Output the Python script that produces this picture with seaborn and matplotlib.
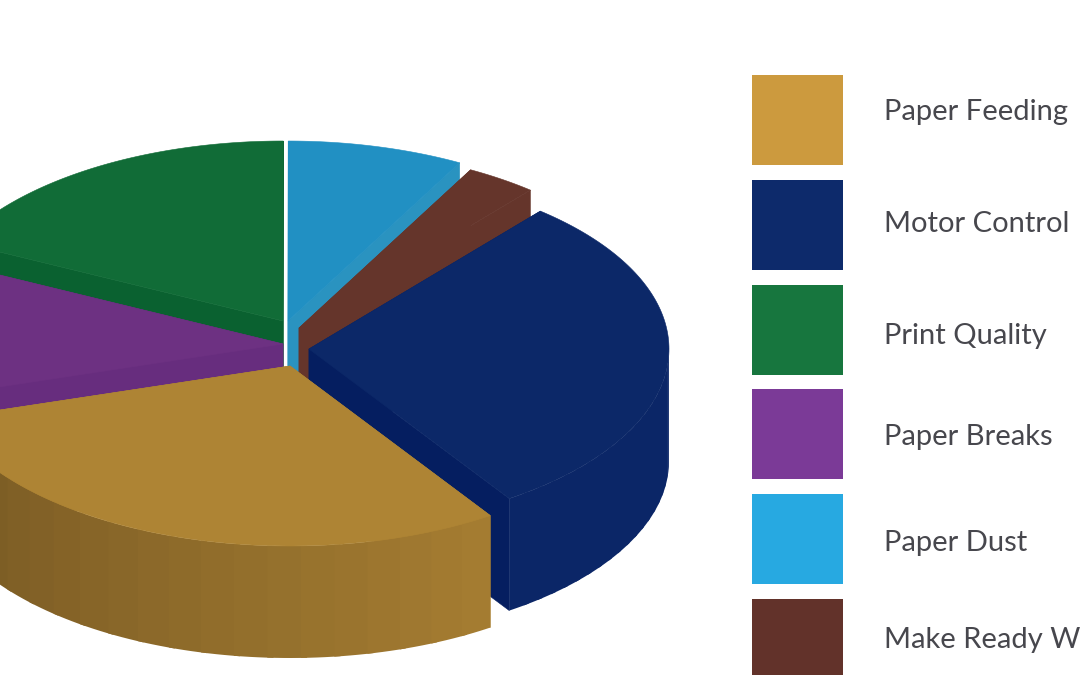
import numpy as np
import matplotlib
matplotlib.use("Agg")
import matplotlib.pyplot as plt
import seaborn as sns
from matplotlib.patches import Polygon, Rectangle

# ---- data -------------------------------------------------------------
categories = ["Motor Control", "Make Ready Waste", "Paper Dust",
              "Print Quality", "Paper Breaks", "Paper Feeding"]
shares = [29.5, 3.2, 7.9, 17.8, 11.9, 29.7]

legend_order = ["Paper Feeding", "Motor Control", "Print Quality",
                "Paper Breaks", "Paper Dust", "Make Ready Waste"]

# ---- styles -----------------------------------------------------------
top_colors = ["#0c2868", "#65352b", "#2190c3", "#116c37", "#6d3182", "#ae8434"]
cut_colors = ["#051e60", "#65352b", "#2a93c0", "#0a6130", "#672d7e", "#ae8434"]
side_colors = [("#0b2667", "#0b2667"), ("#65352b", "#65352b"), ("#2190c3", "#2190c3"),
               ("#116c37", "#116c37"), ("#6d3182", "#6d3182"), ("#765823", "#a47c31")]
legend_colors = ["#cc9a3e", "#0d2a6b", "#17763e", "#7b3a97", "#27a9e1", "#62322a"]
offsets = [(21, 9), (11, -12), (0, -19), (-5, -19), (-5, 4), (2, 26)]
draw_order = [3, 2, 4, 1, 0, 5]
CENTER = (288, 340)
RX, RY, DEPTH = 360, 180, 112
START = -56.2
LEG_X, LEG_W, LEG_H, LEG_Y0, LEG_STEP = 752, 91, 90, 75, 104.8
LABEL_X = 884
LABEL_Y = [112, 224, 336, 437, 543, 640]

sns.set_theme(style="white")
plt.rcParams["font.family"] = ["Lato", "DejaVu Sans"]

fig = plt.figure(figsize=(10.8, 6.75), dpi=100)
ax = fig.add_axes([0, 0, 1, 1])
ax.set_xlim(0, 1080)
ax.set_ylim(675, 0)
ax.axis("off")

palette = sns.color_palette(top_colors)
angles = START + np.concatenate([[0], np.cumsum(shares)]) * 3.6


def rim(cx, cy, theta):
    t = np.radians(theta)
    return cx + RX * np.cos(t), cy - RY * np.sin(t)


for z, i in enumerate(draw_order):
    a0, a1 = angles[i], angles[i + 1]
    cx, cy = CENTER[0] + offsets[i][0], CENTER[1] + offsets[i][1]
    base = z * 10

    # flat faces left by the cut
    for a in (a0, a1):
        x, y = rim(cx, cy, a)
        ax.add_patch(Polygon([(cx, cy), (x, y), (x, y + DEPTH), (cx, cy + DEPTH)],
                             closed=True, fc=cut_colors[i], ec=cut_colors[i],
                             lw=0.4, zorder=base))

    # outer wall, front half only
    lo = max(a0, 180) if a0 >= 0 else a0
    hi = a1 if a0 >= 0 else min(a1, 0)
    if hi > lo:
        c0 = np.array(matplotlib.colors.to_rgb(side_colors[i][0]))
        c1 = np.array(matplotlib.colors.to_rgb(side_colors[i][1]))
        edges = np.linspace(lo, hi, 21)
        for k in range(len(edges) - 1):
            # each strip runs on under the next, so no seam shows between them
            sub = np.linspace(edges[k], min(edges[k + 1] + 1.0, hi), 6)
            xs, ys = rim(cx, cy, sub)
            col = c0 + (c1 - c0) * k / (len(edges) - 2)
            pts = list(zip(xs, ys)) + list(zip(xs[::-1], ys[::-1] + DEPTH))
            ax.add_patch(Polygon(pts, closed=True, fc=col, ec="none", zorder=base + 1))

    # top surface
    th = np.linspace(a0, a1, 120)
    xs, ys = rim(cx, cy, th)
    ax.add_patch(Polygon([(cx, cy)] + list(zip(xs, ys)), closed=True,
                         fc=palette[i], ec=palette[i], lw=0.4, zorder=base + 2))

# legend
for j, (name, col) in enumerate(zip(legend_order, legend_colors)):
    ax.add_patch(Rectangle((LEG_X, LEG_Y0 + j * LEG_STEP), LEG_W, LEG_H,
                           fc=col, ec="none", zorder=100))
    ax.text(LABEL_X, LABEL_Y[j], name, fontsize=21, color="#47474d",
            va="center", ha="left", zorder=100)

fig.savefig("out.png", dpi=100)
